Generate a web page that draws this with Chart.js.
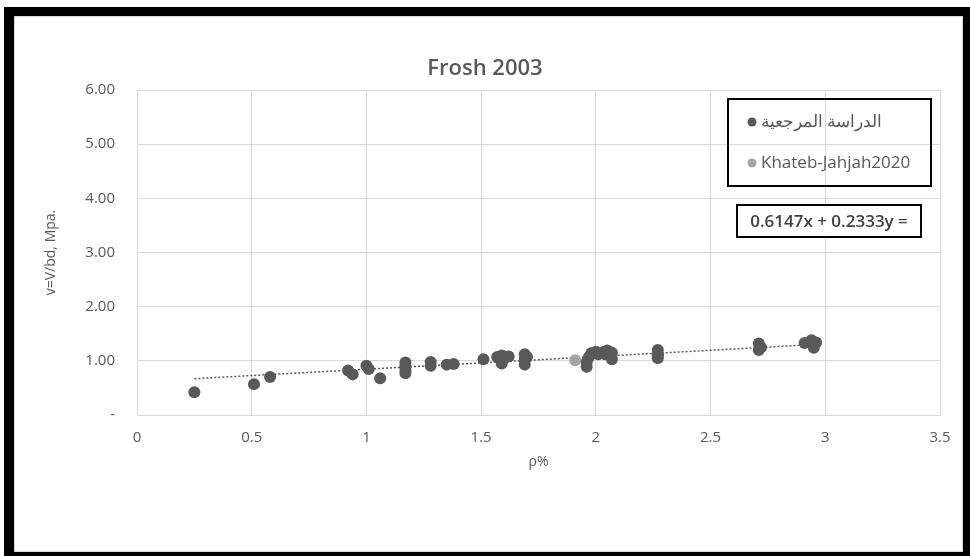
<!DOCTYPE html>
<html>
<head>
<meta charset="utf-8">
<script src="https://cdn.jsdelivr.net/npm/chart.js@4"></script>
<style>
  html, body { margin: 0; padding: 0; background: #fff; }
  #frame {
    position: absolute; left: 4px; top: 7px; width: 966px; height: 549px;
    box-sizing: border-box; background: #fff;
    border-left: 10px solid #000; border-top: 9px solid #000;
    border-right: 7px solid #000; border-bottom: 4px solid #000;
  }
  #frame::after {
    content: ''; position: absolute; left: 0; top: 0; right: 0; bottom: 0;
    border: 1px solid #d9d9d9;
  }
  #chart { position: absolute; left: 0; top: 0; }
</style>
</head>
<body>
<div id="frame"></div>
<canvas id="chart" width="970" height="556"></canvas>
<script>
// Chart data
const chartTitle = 'Frosh 2003';
const seriesNames = ['الدراسة المرجعية', 'Khateb-Jahjah2020'];
const equationText = '0.6147x + 0.2333y =';

const refX = [0.25, 0.51, 0.58, 0.92, 0.94, 1.00, 1.01, 1.06, 1.17, 1.17, 1.17, 1.17,
  1.28, 1.28, 1.35, 1.38, 1.51, 1.57, 1.59, 1.60, 1.62, 1.59, 1.69, 1.69, 1.69, 1.70,
  1.96, 1.96, 1.97, 1.98, 2.00, 2.01, 2.03, 2.04, 2.05, 2.07, 2.07,
  2.27, 2.27, 2.27, 2.27, 2.71, 2.72, 2.71, 2.91, 2.94, 2.95, 2.95, 2.96];
const refY = [0.42, 0.57, 0.70, 0.82, 0.75, 0.91, 0.85, 0.68, 0.97, 0.90, 0.83, 0.77,
  0.98, 0.91, 0.93, 0.94, 1.03, 1.07, 1.10, 1.05, 1.08, 0.95, 1.12, 1.02, 0.93, 1.07,
  0.89, 0.98, 1.07, 1.14, 1.17, 1.12, 1.16, 1.12, 1.19, 1.15, 1.03,
  1.20, 1.12, 1.05, 1.10, 1.32, 1.25, 1.20, 1.33, 1.38, 1.30, 1.24, 1.34];

const khatebX = [1.91];
const khatebY = [1.01];

// trendline end points
const trendX = [0.25, 2.95];
const trendY = [0.67, 1.30];

const xTicks = [0, 0.5, 1, 1.5, 2, 2.5, 3, 3.5];
const xTickLabels = ['0', '0.5', '1', '1.5', '2', '2.5', '3', '3.5'];
const yTickLabels = ['-', '1.00', '2.00', '3.00', '4.00', '5.00', '6.00'];

const toPoints = (xs, ys) => xs.map((x, i) => ({ x: x, y: ys[i] }));

const DARK = '#595959';
const LIGHT = '#a5a5a5';
const GRID = '#d9d9d9';
const FONT = "'Open Sans', sans-serif";

// legend box and equation box drawn inside the plot area
const boxesPlugin = {
  id: 'boxes',
  afterDraw(chart) {
    const ctx = chart.ctx;
    const area = chart.chartArea;
    ctx.save();

    // legend (transparent, black border)
    const lx = area.right - 212, ly = area.top + 9, lw = 203, lh = 87;
    ctx.strokeStyle = '#000';
    ctx.lineWidth = 2;
    ctx.strokeRect(lx, ly, lw, lh);

    const rows = [
      { text: seriesNames[0], color: DARK, y: ly + 23 },
      { text: seriesNames[1], color: LIGHT, y: ly + 64 }
    ];
    ctx.font = '17px ' + FONT;
    ctx.textBaseline = 'middle';
    ctx.textAlign = 'left';
    rows.forEach(r => {
      ctx.fillStyle = r.color;
      ctx.beginPath();
      ctx.arc(lx + 24, r.y, 4.5, 0, Math.PI * 2);
      ctx.fill();
      ctx.fillStyle = DARK;
      ctx.fillText(r.text, lx + 33, r.y);
    });

    // equation box
    const ex = area.right - 203, ey = area.top + 115, ew = 184, eh = 32;
    ctx.fillStyle = '#fff';
    ctx.fillRect(ex, ey, ew, eh);
    ctx.strokeRect(ex, ey, ew, eh);
    ctx.fillStyle = '#404040';
    ctx.font = '600 17px ' + FONT;
    ctx.textAlign = 'center';
    ctx.fillText(equationText, ex + ew / 2, ey + eh / 2 + 1);

    ctx.restore();
  }
};

new Chart(document.getElementById('chart'), {
  type: 'scatter',
  data: {
    datasets: [
      {
        label: seriesNames[0],
        data: toPoints(refX, refY),
        backgroundColor: DARK,
        borderColor: DARK,
        pointRadius: 6,
        borderWidth: 0
      },
      {
        label: seriesNames[1],
        data: toPoints(khatebX, khatebY),
        backgroundColor: LIGHT,
        borderColor: LIGHT,
        pointRadius: 6,
        borderWidth: 0
      },
      {
        label: 'trend',
        type: 'line',
        data: toPoints(trendX, trendY),
        showLine: true,
        borderColor: DARK,
        borderWidth: 1.5,
        borderDash: [2, 2],
        pointRadius: 0,
        fill: false
      }
    ]
  },
  options: {
    responsive: false,
    animation: false,
    layout: {
      padding: { left: 30, right: 30, top: 0, bottom: 80 }
    },
    plugins: {
      legend: { display: false },
      tooltip: { enabled: false },
      title: {
        display: true,
        text: chartTitle,
        color: DARK,
        font: { family: FONT, size: 22, weight: '600' },
        padding: { top: 56, bottom: 7.6 }
      }
    },
    scales: {
      x: {
        type: 'linear',
        min: 0,
        max: 3.5,
        afterBuildTicks: (scale) => {
          scale.ticks = xTicks.map(v => ({ value: v }));
        },
        afterFit: (scale) => { scale.height = 61; },
        ticks: {
          color: DARK,
          padding: 14,
          font: { family: FONT, size: 15 },
          callback: (v, i) => xTickLabels[i]
        },
        grid: { color: GRID, drawTicks: false },
        border: { color: GRID },
        title: {
          display: true,
          text: 'ρ%',
          color: DARK,
          font: { family: FONT, size: 14 },
          padding: { top: 0, bottom: 6 }
        }
      },
      y: {
        min: 0,
        max: 6,
        ticks: {
          stepSize: 1,
          color: DARK,
          padding: 22,
          font: { family: FONT, size: 15 },
          callback: (v) => yTickLabels[Math.round(v)]
        },
        afterFit: (scale) => { scale.width = 107; },
        grid: { color: GRID, drawTicks: false },
        border: { color: GRID },
        title: {
          display: true,
          text: 'v=V/bd, Mpa.',
          color: DARK,
          font: { family: FONT, size: 14 },
          padding: { top: 13, bottom: 0 }
        }
      }
    }
  },
  plugins: [boxesPlugin]
});
</script>
</body>
</html>
